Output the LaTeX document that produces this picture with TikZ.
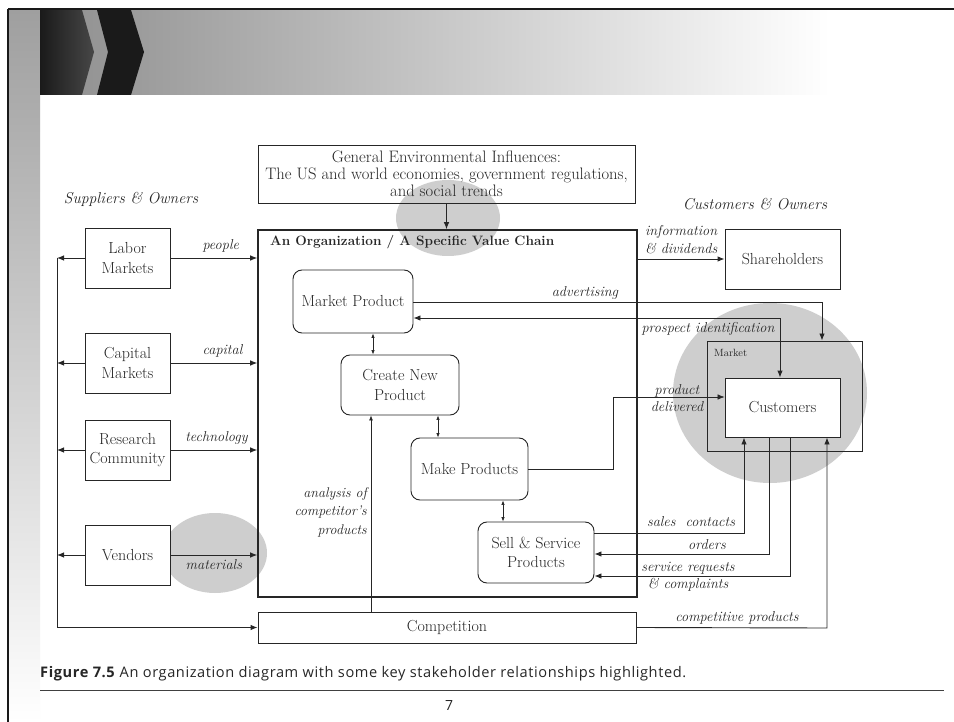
\documentclass[tikz,border=0pt]{standalone}
\usepackage{fontspec}
\newfontfamily\capfont[LetterSpace=4]{Open Sans}
\usetikzlibrary{arrows.meta,calc}

\definecolor{ink}{HTML}{262626}
\definecolor{hl}{HTML}{CECECE}
\definecolor{bannergray}{HTML}{8E8E8E}
\definecolor{chevdark}{HTML}{1A1A1A}
\definecolor{chevmid}{HTML}{474747}

\begin{document}
\begin{tikzpicture}[x=1pt,y=-1pt,
  every node/.style={text=ink},
  box/.style={draw=ink, line width=0.9pt, align=center, inner sep=0pt,
              font=\fontsize{16}{19.5}\selectfont},
  procbox/.style={box, rounded corners=9pt},
  lab/.style={font=\itshape\fontsize{14.3}{17.5}\selectfont, inner sep=0pt, align=center},
  conn/.style={draw=ink, line width=0.9pt},
  arr/.style={conn, -{Latex[length=7pt,width=5.5pt]}},
  thinarr/.style={conn, line width=0.6pt, -{Latex[length=7pt,width=5.5pt]}},
  twoway/.style={conn, {Latex[length=7pt,width=5.5pt]}-{Latex[length=7pt,width=5.5pt]}},
  smallway/.style={conn, line width=0.7pt, {Latex[length=4.5pt,width=3.5pt]}-{Latex[length=4.5pt,width=3.5pt]}},
]
\useasboundingbox (0,0) rectangle (954,722);
\fill[white] (0,0) rectangle (954,722);

% ---- slide frame and header banner ----
\shade[top color=bannergray!85, bottom color=white] (9,9) rectangle (40,722);
\shade[left color=bannergray, right color=white] (40,10) rectangle (830,95);
\shade[left color=chevdark, right color=chevmid]
  (40,10) -- (82,10) -- (94,52) -- (82,95) -- (40,95) -- cycle;
\fill[chevdark] (97,10) -- (131,10) -- (144,52) -- (131,95) -- (97,95) -- (108,52) -- cycle;
\draw[black!90, line width=2pt] (8,9) -- (954,9);
\draw[black!90, line width=1.5pt] (8,9) -- (8,722);

% ---- highlighted areas ----
\fill[hl] (448,218) ellipse [x radius=52, y radius=38];
\fill[hl] (215,553) ellipse [x radius=52, y radius=40];
\fill[hl] (770,393) ellipse [x radius=97, y radius=90];

% ---- group headings ----
\node[lab, font=\itshape\fontsize{15.7}{17}\selectfont] (suphead) at (131,199) {Suppliers \& Owners};
\node[lab, font=\itshape\fontsize{15.7}{17}\selectfont] (custhead) at (755,204) {Customers \& Owners};

% ---- boxes ----
\node[box, minimum width=377, minimum height=58, font=\fontsize{16.6}{17.2}\selectfont] (env) at (446.5,174)
  {General Environmental Influences:\\The US and world economies, government regulations,\\and social trends};
\node[box, line width=1.6pt, minimum width=379, minimum height=367] (org) at (447.5,413.5) {};
\node[anchor=base west, inner sep=0pt, font=\bfseries\fontsize{13.6}{16}\selectfont] (orgtitle) at (270,246)
  {An Organization / A Specific Value Chain};

\node[box, minimum width=85, minimum height=60] (labor) at (127.5,258) {Labor\\Markets};
\node[box, minimum width=85, minimum height=60] (capital) at (127.5,363) {Capital\\Markets};
\node[box, minimum width=85, minimum height=60] (research) at (127.5,450) {Research\\Community};
\node[box, fill=white, minimum width=85, minimum height=60] (vendors) at (127.5,555) {Vendors};

\node[procbox, minimum width=120, minimum height=63] (mprod) at (353,301.5) {Market Product};
\node[procbox, minimum width=118, minimum height=60] (cnp) at (400,385) {Create New\\Product};
\node[procbox, minimum width=117, minimum height=62] (make) at (469.5,469) {Make Products};
\node[procbox, minimum width=116, minimum height=61] (sell) at (536,552.5) {Sell \& Service\\Products};

\node[box, minimum width=378, minimum height=31] (comp) at (447,627.5) {Competition};

\node[box, minimum width=115, minimum height=60] (share) at (782.5,259) {Shareholders};
\node[box, minimum width=155, minimum height=110] (market) at (784.5,396) {};
\node[anchor=west, inner sep=0pt, font=\fontsize{10.5}{12}\selectfont] (marketlab) at (714,353) {Market};
\node[box, fill=white, minimum width=115, minimum height=59] (cust) at (782.5,407.5) {Customers};

% ---- helper coordinates for connector routes ----
\coordinate (bus) at (57,628);
\coordinate (adv) at (822,302);
\coordinate (prosp) at (780,318);
\coordinate (deliv) at (613,397);
\coordinate (sales) at (744,533);
\coordinate (ord) at (769,554);
\coordinate (serv) at (790,576);
\coordinate (cprod) at (827,628);
\coordinate (anal) at (371,0);
\coordinate (l1) at (373,0);
\coordinate (l2) at (438,0);
\coordinate (l3) at (503,0);

% ---- environment into organization ----
\draw[arr] (env.south) -- (env.south |- org.north);

% ---- suppliers ----
\foreach \n in {labor,capital,research,vendors}
  \draw[arr] (\n.west) -- (\n.west -| bus);
\draw[arr] (labor.west -| bus) |- (comp.west);

\draw[arr] (labor.east) -- (labor.east -| org.west)
  node[lab, pos=0.58, above=5pt] {people};
\draw[arr] (capital.east) -- (capital.east -| org.west)
  node[lab, pos=0.6, above=5pt] {capital};
\draw[arr] (research.east) -- (research.east -| org.west)
  node[lab, pos=0.53, above=5pt] {technology};
\draw[arr] (vendors.east) -- (vendors.east -| org.west)
  node[lab, pos=0.5, below=4pt] {materials};

% ---- inside the value chain ----
\draw[smallway] (l1 |- mprod.south) -- (l1 |- cnp.north);
\draw[smallway] (l2 |- cnp.south) -- (l2 |- make.north);
\draw[smallway] (l3 |- make.south) -- (l3 |- sell.north);
\draw[conn, line width=0.7pt, -{Latex[length=5pt,width=4pt]}] (anal |- comp.north) -- (anal |- cnp.south);
\node[lab, anchor=east, align=right, font=\itshape\fontsize{14}{18.5}\selectfont] (anallab) at (367,512)
  {analysis of\\competitor's\\products};

% ---- owners and customers ----
\draw[arr] (org.east |- share.west) -- (share.west)
  node[lab, midway, above=5pt, align=left] {information\\\& dividends};

\draw[arr] (mprod.east |- adv) -- (adv) -- (adv |- market.north);
\node[lab] (advlab) at (585,293) {advertising};

\draw[twoway] (mprod.east |- prosp) -- (prosp) -- (prosp |- cust.north);
\node[lab] (prosplab) at (708,329) {prospect identification};

\draw[thinarr] (make.east) -| (deliv) -- (deliv -| cust.west);
\node[lab] (delivlab) at (677,398) {product\\delivered};

\draw[arr] (sell.east |- sales) -- (sales) -- (sales |- cust.south);
\node[lab] (saleslab) at (691,522) {sales\ \ contacts};

\draw[arr] (ord |- cust.south) -- (ord) -- (ord -| sell.east);
\node[lab] (ordlab) at (707,545) {orders};

\draw[arr] (serv |- cust.south) -- (serv) -- (serv -| sell.east);
\node[lab] (servlab) at (688,576.5) {service requests\\\& complaints};

\draw[arr] (comp.east) -- (cprod) -- (cprod |- cust.south);
\node[lab] (cproblab) at (737,618) {competitive products};

% ---- caption and page number ----
\node[anchor=base west, inner sep=0pt, text=black!85, font=\capfont\fontsize{14.6}{16}\selectfont] (caption) at (40,677)
  {\textbf{Figure 7.5}\ An organization diagram with some key stakeholder relationships highlighted.};
\draw[black!75, line width=0.8pt] (40,690) -- (944,690);
\node[text=black!85, font=\capfont\fontsize{14}{16}\selectfont] (pagenum) at (449,705) {7};
\end{tikzpicture}
\end{document}
